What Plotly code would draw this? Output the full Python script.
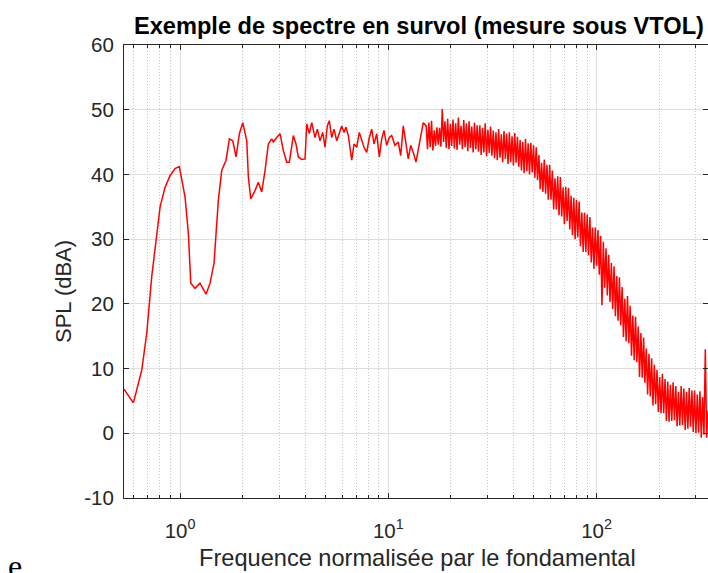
import numpy as np
import plotly.graph_objects as go

# ---- data ----
freq_lf = [0.538, 0.597, 0.655, 0.692, 0.731, 0.773, 0.802, 0.847, 0.895, 0.946,
           0.992, 1.057, 1.096, 1.126, 1.180, 1.247, 1.333, 1.393, 1.456, 1.527,
           1.585, 1.663, 1.725, 1.791, 1.857, 1.927, 2.000, 2.091, 2.128, 2.185,
           2.291, 2.376, 2.467, 2.559, 2.654, 2.755, 2.805, 2.912, 3.021, 3.132,
           3.253, 3.348, 3.499, 3.605, 3.698, 3.839, 3.983, 4.058, 4.176, 4.289,
           4.449, 4.564, 4.701, 4.843, 4.967, 5.095, 5.209, 5.349, 5.487, 5.654,
           5.819, 5.976, 6.129, 6.266, 6.427, 6.673, 6.845, 7.053, 7.258, 7.453,
           7.645, 7.877, 8.107, 8.324, 8.538, 8.797, 9.054, 9.298, 9.535, 9.824,
           10.11, 10.38, 10.77, 11.17, 11.47, 11.80, 12.16, 12.47, 12.81, 13.18,
           13.58, 13.93, 14.31, 14.72]
spl_lf = [6.8, 4.7, 9.8, 15.5, 24.2, 30.9, 35.0, 38.0, 39.8, 40.9,
          41.2, 36.5, 30.9, 23.2, 22.4, 23.2, 21.5, 23.2, 26.3, 36.0,
          40.6, 42.2, 45.5, 45.2, 42.7, 46.3, 48.0, 45.2, 39.6, 36.2,
          37.5, 38.8, 37.3, 40.6, 44.7, 45.5, 45.0, 45.7, 46.3, 43.7,
          41.9, 41.9, 46.0, 44.7, 42.7, 42.3, 42.4, 47.8, 46.3, 48.0,
          45.7, 47.0, 45.2, 46.5, 44.2, 47.5, 48.3, 45.7, 47.0, 45.2,
          46.3, 47.5, 46.5, 47.3, 46.0, 42.2, 44.7, 44.2, 46.5, 45.2,
          44.2, 43.4, 45.7, 47.0, 44.7, 46.3, 42.7, 45.5, 46.8, 44.5,
          45.7, 46.0, 44.5, 45.0, 42.9, 47.5, 44.5, 42.4, 44.5, 43.4,
          41.9, 43.9, 46.0, 48.0]

# dense part of the spectrum (frequency bins from 15.2 to 343)
spl_hf = [47.5, 43.9, 48.0, 44.2, 48.3, 43.7, 46.8, 44.4, 47.3, 44.6,
          47.2, 44.3, 50.1, 45.0, 48.2, 44.1, 48.6, 43.9, 47.8, 44.4,
          48.5, 44.0, 47.9, 43.8, 48.8, 44.6, 47.5, 43.9, 48.4, 44.2,
          47.9, 43.6, 48.2, 44.1, 47.4, 43.4, 48.0, 43.9, 47.6, 43.5,
          47.6, 43.0, 47.2, 43.4, 47.9, 42.8, 46.9, 43.3, 47.4, 42.9,
          46.8, 42.5, 46.5, 42.2, 47.0, 42.6, 46.2, 41.9, 46.7, 42.4,
          46.3, 41.6, 46.5, 41.9, 45.9, 41.4, 46.4, 41.8, 45.8, 41.2,
          45.3, 40.6, 45.0, 40.2, 45.5, 40.5, 44.8, 40.0, 44.9, 40.3,
          44.5, 39.5, 44.2, 39.1, 43.0, 37.7, 41.8, 37.3, 42.3, 37.0,
          41.5, 36.1, 41.5, 36.1, 40.6, 34.6, 39.4, 34.6, 39.7, 33.7,
          39.6, 33.5, 38.0, 32.3, 38.1, 32.8, 37.9, 31.5, 36.7, 30.6,
          36.4, 30.0, 36.1, 30.3, 35.8, 28.9, 34.1, 28.0, 34.1, 28.0,
          33.8, 27.5, 33.4, 26.4, 31.8, 25.4, 31.8, 25.9, 31.4, 24.5,
          30.5, 19.8, 29.6, 22.5, 28.6, 21.3, 27.6, 20.3, 26.3, 19.2,
          25.8, 18.1, 24.3, 17.4, 24.1, 16.7, 22.6, 14.9, 20.8, 14.2,
          21.2, 13.9, 19.7, 12.0, 18.2, 11.3, 18.0, 11.0, 16.5, 8.7,
          15.5, 8.6, 14.8, 7.8, 13.1, 6.0, 12.3, 5.7, 11.6, 4.3,
          10.6, 4.5, 9.8, 3.3, 8.7, 3.1, 9.2, 3.1, 8.4, 1.9,
          8.0, 1.8, 7.5, 1.9, 7.9, 2.0, 7.3, 1.1, 6.4, 1.2,
          7.3, 1.3, 6.9, 0.5, 6.4, 0.7, 7.0, 1.0, 6.6, 0.2,
          6.6, 0.0, 6.0, 0.1, 6.5, -0.7, 5.6, -0.2, 13.0, -0.7,
          3.5]
freq_hf = np.geomspace(15.2, 343, len(spl_hf))

x_ticks = [1, 10, 100]
x_ticklabels = ["10<sup>0</sup>", "10<sup>1</sup>", "10<sup>2</sup>"]
y_ticks = [-10, 0, 10, 20, 30, 40, 50, 60]
y_ticklabels = ["-10", "0", "10", "20", "30", "40", "50", "60"]

title_text = "Exemple de spectre en survol (mesure sous VTOL)"
xlabel_text = "Frequence normalisée par le fondamental"
ylabel_text = "SPL (dBA)"

freq = list(freq_lf) + list(freq_hf)
spl = list(spl_lf) + list(spl_hf)

minor_vals = [m * d for d in (0.1, 1, 10, 100) for m in range(2, 10) if 0.5 < m * d < 400]

FONT = "Liberation Sans, Arial, sans-serif"
AX = "#262626"

fig = go.Figure()
fig.add_trace(go.Scatter(x=freq, y=spl, mode="lines",
                         line=dict(color="#ff0000", width=1.5),
                         showlegend=False, hoverinfo="skip"))

W, H = 708, 573
L, R, T, B = 124, 0, 45, 573 - 498
pw, ph = W - L - R, H - T - B

def px(xp):
    return (xp - L) / pw

def py(yp):
    return (H - B - yp) / ph

fig.update_layout(
    width=W, height=H,
    margin=dict(l=L, r=R, t=T, b=B, pad=0),
    paper_bgcolor="white", plot_bgcolor="white",
    font=dict(family=FONT, color=AX),
    showlegend=False,
    hovermode=False,
    xaxis=dict(
        type="log", range=[np.log10(0.538), np.log10(343)],
        tickvals=x_ticks, ticktext=x_ticklabels,
        ticks="inside", ticklen=5, tickcolor=AX, tickwidth=1,
        showline=True, linecolor=AX, linewidth=1, mirror="ticks",
        showgrid=True, gridcolor="#dedede", gridwidth=1,
        zeroline=False, automargin=False, ticklabelstandoff=14,
        tickfont=dict(size=20.5, color=AX, family=FONT),
        minor=dict(tickvals=minor_vals, ticks="inside", ticklen=3,
                   tickcolor=AX, showgrid=True, gridcolor="#c4c4c4",
                   griddash="1px,2px", gridwidth=1),
    ),
    yaxis=dict(
        range=[-10, 60], tickvals=y_ticks, ticktext=y_ticklabels,
        ticks="inside", ticklen=5, tickcolor=AX, tickwidth=1,
        showline=True, linecolor=AX, linewidth=1, mirror="ticks",
        showgrid=True, gridcolor="#dedede", gridwidth=1,
        zeroline=False, automargin=False, ticklabelstandoff=5,
        tickfont=dict(size=20.5, color=AX, family=FONT),
    ),
    annotations=[
        dict(text="<b>" + title_text + "</b>", xref="paper", yref="paper",
             x=px(418.5), y=py(26), xanchor="center", yanchor="middle",
             showarrow=False, font=dict(size=23.6, color="black", family=FONT)),
        dict(text=xlabel_text, xref="paper", yref="paper",
             x=px(417.5), y=py(558), xanchor="center", yanchor="middle",
             showarrow=False, font=dict(size=23.6, color=AX, family=FONT)),
        dict(text=ylabel_text, xref="paper", yref="paper", textangle=-90,
             x=px(63), y=py(292), xanchor="center", yanchor="middle",
             showarrow=False, font=dict(size=22, color=AX, family=FONT)),
        dict(text="e", xref="paper", yref="paper",
             x=px(15), y=py(566), xanchor="center", yanchor="middle",
             showarrow=False,
             font=dict(size=32, color="black", family="Liberation Serif, serif")),
    ],
)

fig.write_html("out.html",
               config={"displayModeBar": False, "staticPlot": True},
               post_script="document.body.style.margin='0px';"
                           "document.body.style.overflow='hidden';")
